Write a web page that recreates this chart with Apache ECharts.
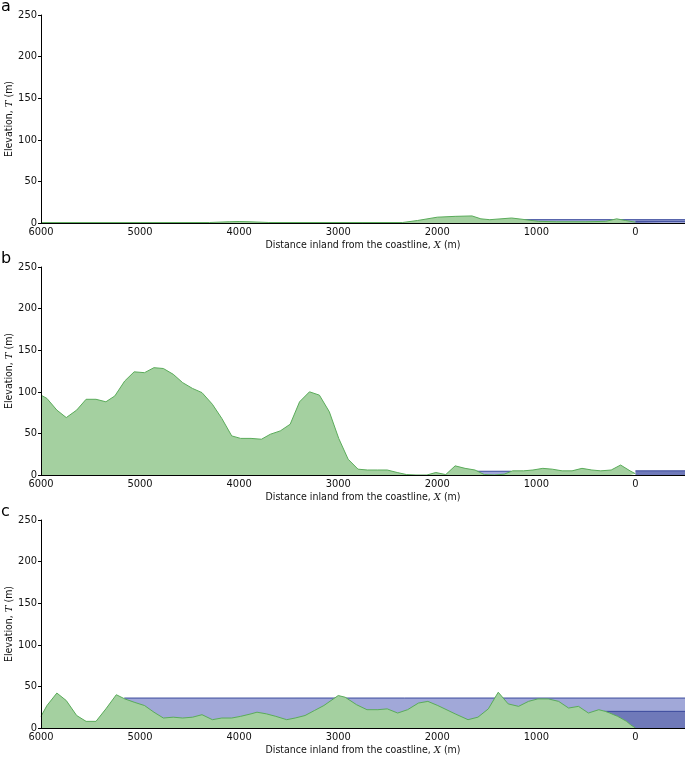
<!DOCTYPE html>
<html>
<head>
<meta charset="utf-8">
<script src="https://cdn.jsdelivr.net/npm/echarts@6/dist/echarts.min.js"></script>
<style>
html,body{margin:0;padding:0;background:#fff;}
#chart{width:685px;height:757px;}
</style>
</head>
<body>
<div id="chart"></div>
<script>
// ---- Data ----
const xTicks = [6000, 5000, 4000, 3000, 2000, 1000, 0];
const yTicks = [0, 50, 100, 150, 200, 250];
const panelLabels = ['a', 'b', 'c'];

// Panel a terrain
const aX = [6000, 5000, 4300, 4100, 4000, 3900, 3700, 2350, 2200, 2000, 1820, 1650, 1560, 1470, 1250, 1110, 980, 800, 500, 300, 190, 100, 0];
const aT = [0.5, 0.5, 0.6, 1.5, 1.8, 1.5, 0.6, 0.6, 3, 7, 8, 8.5, 5, 4, 6, 4, 2, 1.5, 1.5, 2, 5, 3, 1];
// Panel a water
const aLightX = [1118, -500]; const aLightLevel = 4;
const aDarkX = [0, -500];     const aDarkLevel = 2;

// Panel b terrain
const bX = [6000,5940,5840,5745,5640,5545,5445,5345,5255,5155,5060,4955,4860,4765,4665,4570,4470,4375,4270,4175,4075,3985,3880,3775,3685,3585,3485,3390,3290,3190,3090,2995,2900,2800,2705,2605,2505,2405,2310,2215,2105,2015,1915,1820,1720,1620,1525,1425,1325,1240,1130,1035,935,840,740,640,540,440,350,245,150,55,0];
const bT = [96,92,78,69,78,91,91,88,95,113,124,123,129,128,121,111,104,99,85,68,47,44,44,43,49,53,61,88,100,96,76,44,19,7,6,6,6,3,0.5,0,0,3,0.5,11,8,6,0.5,0,1,5,5,6,8,7,5,5,8,6,5,6,12,5,1.5];
// Panel b water
const bLightX = [1600, 1255]; const bLightLevel = 4.5;
const bDarkX = [0, -500];     const bDarkLevel = 5;

// Panel c terrain
const cX = [6000,5940,5840,5745,5640,5545,5445,5345,5240,5155,5060,4955,4860,4765,4665,4570,4470,4375,4270,4175,4075,3985,3880,3820,3725,3630,3520,3435,3335,3240,3145,3000,2930,2815,2710,2600,2505,2400,2300,2190,2095,1995,1820,1690,1590,1485,1385,1285,1180,1080,985,880,775,675,575,475,370,305,260,220,180,135,90,50,0];
const cT = [14,27,42,33,15,8,8,23,40,35,31,27,19,12,13,12,13,16,10,12,12,14,17,19,17,14,10,12,15,21,27,39,37,28,22,22,23,18,22,30,32,27,17,10,13,23,43,29,26,32,35,35,32,24,26,18,22,20,18,16,14,11,8,4,0];
// Panel c water
const cLightX = [5160, -500]; const cLightLevel = 36;
const cDarkX = [320, -500];   const cDarkLevel = 20;

// ---- Style ----
const FONT = "'DejaVu Sans Condensed', 'Liberation Sans Narrow', 'DejaVu Sans', sans-serif";
const GREEN_LINE = '#5aab5a';
const GREEN_FILL = '#a4d0a0';
const BLUE_LINE = '#3b4a9c';
const BLUE_LIGHT = '#a1a8d8';
const BLUE_DARK = '#6f79b9';

const tops = [15, 267, 520];
const H = 208;

const chart = echarts.init(document.getElementById('chart'), null, {renderer: 'canvas'});

const grids = tops.map(t => ({left: 41, right: 0, top: t, height: H, containLabel: false, outerBoundsMode: 'none'}));

const xAxes = tops.map((t, i) => ({
  gridIndex: i, type: 'value', min: -500, max: 6000, inverse: true, z: 10,
  axisLine: {show: true, onZero: false, lineStyle: {color: '#000', width: 1}},
  axisTick: {show: false},
  splitLine: {show: false},
  axisLabel: {customValues: xTicks, color: '#111', fontFamily: FONT, fontSize: 11, margin: 4,
    formatter: v => String(v)},
  name: '{n|Distance inland from the coastline, }{i|X}{n| (m)}',
  nameLocation: 'middle', nameGap: 17, nameMoveOverlap: false,
  nameTextStyle: {rich: {
    n: {fontFamily: FONT, fontSize: 10.5, color: '#111'},
    i: {fontFamily: "'DejaVu Serif', serif", fontStyle: 'italic', fontSize: 10, color: '#111'}
  }}
}));

const yAxes = tops.map((t, i) => ({
  gridIndex: i, type: 'value', min: 0, max: 250, interval: 50, z: 10,
  axisLine: {show: true, onZero: false, lineStyle: {color: '#000', width: 1}},
  axisTick: {show: true, length: 3, lineStyle: {color: '#000'}},
  splitLine: {show: false},
  axisLabel: {customValues: yTicks, color: '#111', fontFamily: FONT, fontSize: 11, margin: 4},
  name: '{n|Elevation, }{i|T}{n| (m)}',
  nameLocation: 'middle', nameGap: 26, nameRotate: 90, nameMoveOverlap: false,
  nameTextStyle: {rich: {
    n: {fontFamily: FONT, fontSize: 10.5, color: '#111'},
    i: {fontFamily: "'DejaVu Serif', serif", fontStyle: 'italic', fontSize: 10, color: '#111'}
  }}
}));

function pairs(xs, ys) { return xs.map((x, k) => [x, ys[k]]); }
function levelPairs(xs, level) { return xs.map(x => [x, level]); }

function water(i, xs, level, fill, z) {
  return {
    type: 'line', xAxisIndex: i, yAxisIndex: i, z: z,
    data: levelPairs(xs, level), showSymbol: false, symbol: 'none', silent: true,
    lineStyle: {color: BLUE_LINE, width: 1},
    areaStyle: {color: fill, opacity: 1, origin: 'start'}
  };
}
function terrain(i, xs, ys) {
  return {
    type: 'line', xAxisIndex: i, yAxisIndex: i, z: 5,
    data: pairs(xs, ys), showSymbol: false, symbol: 'none', silent: true,
    lineStyle: {color: GREEN_LINE, width: 1},
    areaStyle: {color: GREEN_FILL, opacity: 1, origin: 'start'}
  };
}

const series = [
  water(0, aLightX, aLightLevel, BLUE_LIGHT, 2),
  water(0, aDarkX, aDarkLevel, BLUE_DARK, 3),
  terrain(0, aX, aT),
  water(1, bLightX, bLightLevel, BLUE_LIGHT, 2),
  water(1, bDarkX, bDarkLevel, BLUE_DARK, 3),
  terrain(1, bX, bT),
  water(2, cLightX, cLightLevel, BLUE_LIGHT, 2),
  water(2, cDarkX, cDarkLevel, BLUE_DARK, 3),
  terrain(2, cX, cT)
];

const graphic = panelLabels.map((lab, i) => ({
  type: 'text', left: 1, top: tops[i] - 16,
  style: {text: lab, font: "16px 'DejaVu Sans', sans-serif", fill: '#000'}
}));

chart.setOption({
  animation: false,
  backgroundColor: '#fff',
  grid: grids,
  xAxis: xAxes,
  yAxis: yAxes,
  series: series,
  graphic: graphic
});
</script>
</body>
</html>
